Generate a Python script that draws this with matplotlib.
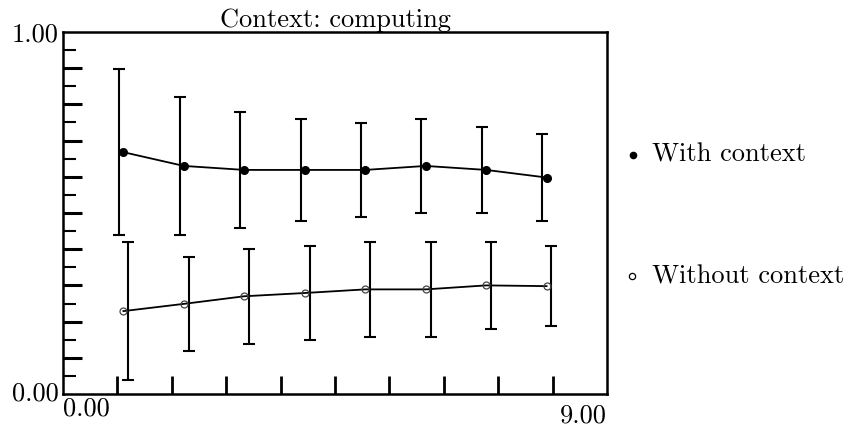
import matplotlib
matplotlib.use("Agg")
import matplotlib.pyplot as plt
import numpy as np

# Data
steps = [1, 2, 3, 4, 5, 6, 7, 8]
with_ctx = [0.668, 0.630, 0.619, 0.619, 0.619, 0.630, 0.619, 0.598]
with_err = [0.230, 0.190, 0.160, 0.141, 0.130, 0.130, 0.119, 0.120]
without_ctx = [0.229, 0.249, 0.270, 0.279, 0.289, 0.289, 0.300, 0.298]
without_err = [0.190, 0.130, 0.131, 0.130, 0.131, 0.131, 0.120, 0.110]
labels = ["With context", "Without context"]
title = "Context: computing"

plt.rcParams['font.family'] = ['cmr10', 'DejaVu Serif']
FS = 19

fig = plt.figure(figsize=(8.48, 4.28), dpi=100)
ax = fig.add_axes([63 / 848, 1 - 394 / 428, 544 / 848, 362 / 428])

x = np.array(steps, dtype=float)

# error bars are slightly offset from the markers
ax.errorbar(x - 0.07, with_ctx, yerr=with_err, fmt='none', ecolor='black',
            elinewidth=1.5, capsize=4, capthick=1.5)
ax.errorbar(x + 0.08, without_ctx, yerr=without_err, fmt='none', ecolor='black',
            elinewidth=1.5, capsize=4, capthick=1.5)

ax.plot(x, with_ctx, color='black', lw=1.3, marker='o', ms=5.5,
        mfc='black', mec='black')
ax.plot(x, without_ctx, color='black', lw=1.3, marker='o', ms=5,
        mfc='none', mec='#444444', mew=0.9)

ax.set_xlim(0, 9)
ax.set_ylim(0, 1)

for s in ax.spines.values():
    s.set_linewidth(1.8)

# inner ticks
ax.set_xticks(np.arange(1, 10) * 0.9)
ax.set_xticklabels([])
ax.tick_params(axis='x', direction='in', length=13, width=2.0)
ax.set_yticks(np.arange(1, 10) * 0.1)
ax.set_yticks(np.arange(0.05, 1.0, 0.1), minor=True)
ax.set_yticklabels([])
ax.tick_params(axis='y', which='major', direction='in', length=13.5, width=2.2)
ax.tick_params(axis='y', which='minor', direction='in', length=9.5, width=1.5)

# axis end labels
ax.annotate("1.00", xy=(0, 1), xycoords='axes fraction', xytext=(-3, -2),
            textcoords='offset points', ha='right', va='center', fontsize=FS)
ax.annotate("0.00", xy=(0, 0), xycoords='axes fraction', xytext=(-3, 0),
            textcoords='offset points', ha='right', va='center', fontsize=FS)
ax.annotate("0.00", xy=(0, 0), xycoords='axes fraction', xytext=(0, -2),
            textcoords='offset points', ha='left', va='top', fontsize=FS)
ax.annotate("9.00", xy=(1, 0), xycoords='axes fraction', xytext=(0, -7),
            textcoords='offset points', ha='right', va='top', fontsize=FS)

ax.set_title(title, fontsize=FS, pad=3)

# legend drawn to the right of the axes
ax.plot([1.047], [0.66], transform=ax.transAxes, clip_on=False, marker='o',
        ms=4.5, color='black')
ax.text(1.082, 0.66, labels[0], transform=ax.transAxes, fontsize=FS,
        va='center', ha='left')
ax.plot([1.046], [0.325], transform=ax.transAxes, clip_on=False, marker='o',
        ms=4.5, mfc='none', mec='black', mew=0.9)
ax.text(1.082, 0.325, labels[1], transform=ax.transAxes, fontsize=FS,
        va='center', ha='left')

fig.savefig("out.png", dpi=100)
